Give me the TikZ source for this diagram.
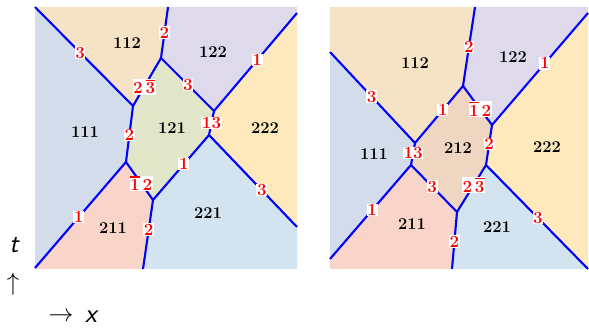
\documentclass[tikz,border=0pt]{standalone}
\usepackage{fontspec}
\newcommand\obar[1]{\leavevmode\vbox{\hrule height 1.3pt\kern1.6pt\hbox{#1}}}
\definecolor{cA}{HTML}{D3DCEA}
\definecolor{cB}{HTML}{F6E3C6}
\definecolor{cC}{HTML}{DEDAEC}
\definecolor{cD}{HTML}{E1E6C8}
\definecolor{cE}{HTML}{FDE9BB}
\definecolor{cF}{HTML}{F9D5C9}
\definecolor{cG}{HTML}{D3E3EF}
\definecolor{cH}{HTML}{EED6C0}
\definecolor{wallblue}{HTML}{0000FF}
\definecolor{labred}{HTML}{FF0000}
\tikzset{
  wall/.style={draw=wallblue, line width=2.1pt},
  elab/.style={fill=white, inner sep=0.6pt, text=labred, font=\fontsize{17}{17}\selectfont\bfseries},
  rlab/.style={inner sep=0pt, font=\fontsize{16.5}{16.5}\selectfont\bfseries},
  axlab/.style={inner sep=0pt, font=\fontsize{27}{27}\selectfont\sffamily\itshape}
}
\begin{document}
\begin{tikzpicture}[x=1pt,y=-1pt]
\useasboundingbox (0,0) rectangle (589,328);
% ---------- left panel ----------
\coordinate (lTL) at (35,7);
\coordinate (lTR) at (297,7);
\coordinate (lBR) at (297,269);
\coordinate (lBL) at (35,269);
\coordinate (lA) at (133,106);
\coordinate (lB) at (161,58);
\coordinate (lC) at (214,111);
\coordinate (lD) at (209,135);
\coordinate (lE) at (153,200);
\coordinate (lF) at (126,162);
\coordinate (lT2) at (168,7);
\coordinate (lR1) at (297,13);
\coordinate (lR3) at (297,227);
\coordinate (lB2) at (143,269);
\coordinate (lL1) at (35,268);
\fill[cA] (lTL) -- (lA) -- (lF) -- (lL1) -- cycle;
\fill[cB] (lTL) -- (lT2) -- (lB) -- (lA) -- cycle;
\fill[cC] (lT2) -- (lTR) -- (lR1) -- (lC) -- (lB) -- cycle;
\fill[cD] (lA) -- (lB) -- (lC) -- (lD) -- (lE) -- (lF) -- cycle;
\fill[cE] (lR1) -- (lR3) -- (lD) -- (lC) -- cycle;
\fill[cG] (lD) -- (lR3) -- (lBR) -- (lB2) -- (lE) -- cycle;
\fill[cF] (lF) -- (lE) -- (lB2) -- (lBL) -- (lL1) -- cycle;
\draw[wall] (lTL) -- node[elab,pos=0.46]{3} (lA);
\draw[wall] (lB) -- node[elab,pos=0.5]{2} (lT2);
\draw[wall] (lA) -- node[elab,pos=0.4]{2\,\obar{3}} (lB);
\draw[wall] (lB) -- node[elab,pos=0.51]{3} (lC);
\draw[wall] (lC) -- node[elab,pos=0.52]{1} (lR1);
\draw[wall] (lC) -- node[elab,pos=0.5]{13} (lD);
\draw[wall] (lD) -- node[elab,pos=0.45]{1} (lE);
\draw[wall] (lD) -- node[elab,pos=0.6]{3} (lR3);
\draw[wall] (lA) -- node[elab,pos=0.52]{2} (lF);
\draw[wall] (lF) -- node[elab,pos=0.52]{1} (lL1);
\draw[wall] (lF) -- node[elab,pos=0.56]{\obar{1}\,2} (lE);
\draw[wall] (lE) -- node[elab,pos=0.43]{2} (lB2);
\node[rlab] (r112) at (127,43) {112};
\node[rlab] (r122) at (213,52) {122};
\node[rlab] (r111) at (85,132) {111};
\node[rlab] (r121) at (172,128) {121};
\node[rlab] (r222) at (265,128) {222};
\node[rlab] (r211) at (113,228) {211};
\node[rlab] (r221) at (208,213) {221};
% ---------- right panel ----------
\coordinate (rTL) at (330,7);
\coordinate (rTR) at (588,7);
\coordinate (rBR) at (588,269);
\coordinate (rBL) at (330,269);
\coordinate (rG) at (415,143);
\coordinate (rH) at (463,86);
\coordinate (rI) at (492,125);
\coordinate (rJ) at (486,165);
\coordinate (rK) at (457,212);
\coordinate (rL) at (411,165);
\coordinate (rL3) at (330,52);
\coordinate (rT2) at (475,7);
\coordinate (rR1) at (588,13);
\coordinate (rB2) at (452,269);
\coordinate (rL1) at (330,259);
\fill[cA] (rL3) -- (rG) -- (rL) -- (rL1) -- cycle;
\fill[cB] (rTL) -- (rT2) -- (rH) -- (rG) -- (rL3) -- cycle;
\fill[cC] (rT2) -- (rTR) -- (rR1) -- (rI) -- (rH) -- cycle;
\fill[cH] (rG) -- (rH) -- (rI) -- (rJ) -- (rK) -- (rL) -- cycle;
\fill[cE] (rR1) -- (rBR) -- (rJ) -- (rI) -- cycle;
\fill[cG] (rJ) -- (rBR) -- (rB2) -- (rK) -- cycle;
\fill[cF] (rL) -- (rK) -- (rB2) -- (rBL) -- (rL1) -- cycle;
\draw[wall] (rL3) -- node[elab,pos=0.49]{3} (rG);
\draw[wall] (rG) -- node[elab,pos=0.58]{1} (rH);
\draw[wall] (rH) -- node[elab,pos=0.49]{2} (rT2);
\draw[wall] (rH) -- node[elab,pos=0.59]{\obar{1}\,2} (rI);
\draw[wall] (rI) -- node[elab,pos=0.55]{1} (rR1);
\draw[wall] (rI) -- node[elab,pos=0.48]{2} (rJ);
\draw[wall] (rJ) -- node[elab,pos=0.51]{3} (rBR);
\draw[wall] (rJ) -- node[elab,pos=0.43]{2\,\obar{3}} (rK);
\draw[wall] (rK) -- node[elab,pos=0.52]{2} (rB2);
\draw[wall] (rG) -- node[elab,pos=0.45]{13} (rL);
\draw[wall] (rL) -- node[elab,pos=0.48]{1} (rL1);
\draw[wall] (rL) -- node[elab,pos=0.46]{3} (rK);
\node[rlab] (s112) at (415,63) {112};
\node[rlab] (s122) at (513,57) {122};
\node[rlab] (s111) at (374,154) {111};
\node[rlab] (s212) at (458,148) {212};
\node[rlab] (s222) at (547,147) {222};
\node[rlab] (s211) at (412,224) {211};
\node[rlab] (s221) at (497,227) {221};
% ---------- axes ----------
\node[axlab] (tl) at (14,245) {t};
\node[axlab] (tu) at (13,284) {$\uparrow$};
\node[axlab] (xa) at (61,317) {$\rightarrow$};
\node[axlab] (xl) at (91,317) {x};
\end{tikzpicture}
\end{document}
